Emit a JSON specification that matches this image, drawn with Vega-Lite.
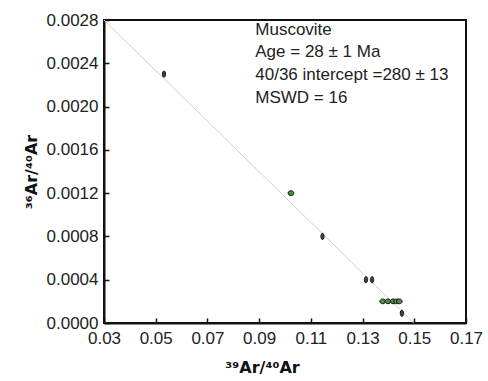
{
  "$schema": "https://vega.github.io/schema/vega-lite/v6.json",
  "width": 362,
  "height": 303,
  "autosize": "none",
  "padding": {"left": 104, "top": 20, "right": 22, "bottom": 58},
  "background": "white",
  "config": {
    "view": {"stroke": "#111", "strokeWidth": 2},
    "font": "Liberation Sans",
    "axis": {
      "grid": false,
      "domainColor": "#111",
      "domainWidth": 2,
      "tickColor": "#111",
      "tickWidth": 1.5,
      "tickSize": -5,
      "labelFlush": false,
      "labelOverlap": false,
      "labelFont": "Liberation Sans",
      "labelFontSize": 17,
      "labelColor": "#222",
      "titleFont": "DejaVu Sans",
      "titleFontSize": 16,
      "titleFontWeight": "bold",
      "titleColor": "#111"
    }
  },
  "layer": [
    {
      "data": {"values": [{"x": 0.03, "y": 0.0028}, {"x": 0.1498, "y": 0.0}]},
      "mark": {"type": "line", "color": "#cdd0d3", "strokeWidth": 1},
      "encoding": {
        "x": {
          "field": "x", "type": "quantitative",
          "scale": {"domain": [0.03, 0.17], "nice": false, "zero": false},
          "axis": {
            "values": [0.03, 0.04, 0.05, 0.06, 0.07, 0.08, 0.09, 0.10, 0.11, 0.12, 0.13, 0.14, 0.15, 0.16, 0.17],
            "labelExpr": "round(datum.value*100) % 2 == 1 ? format(datum.value, '.2f') : ''",
            "labelPadding": 12,
            "title": "³⁹Ar/⁴⁰Ar",
            "titleX": 158,
            "titleY": 49,
            "titleAlign": "center",
            "titleBaseline": "alphabetic"
          }
        },
        "y": {
          "field": "y", "type": "quantitative",
          "scale": {"domain": [0, 0.0028], "nice": false},
          "axis": {
            "values": [0, 0.0002, 0.0004, 0.0006, 0.0008, 0.001, 0.0012, 0.0014, 0.0016, 0.0018, 0.002, 0.0022, 0.0024, 0.0026, 0.0028],
            "labelExpr": "round(datum.value*10000) % 4 == 0 ? format(datum.value, '.4f') : ''",
            "labelPadding": 11,
            "title": "³⁶Ar/⁴⁰Ar",
            "titlePadding": 7
          }
        }
      }
    },
    {
      "data": {"values": [
        {"x": 0.0532, "y": 0.0023, "type": "black"},
        {"x": 0.1023, "y": 0.0012, "type": "green"},
        {"x": 0.1145, "y": 0.0008, "type": "black"},
        {"x": 0.1313, "y": 0.0004, "type": "black"},
        {"x": 0.1337, "y": 0.0004, "type": "black"},
        {"x": 0.1378, "y": 0.0002, "type": "green"},
        {"x": 0.1398, "y": 0.0002, "type": "green"},
        {"x": 0.1418, "y": 0.0002, "type": "green"},
        {"x": 0.1432, "y": 0.0002, "type": "green"},
        {"x": 0.1442, "y": 0.0002, "type": "green"},
        {"x": 0.1452, "y": 0.00009, "type": "black"}
      ]},
      "mark": {"type": "point", "filled": true, "size": 40, "stroke": "#111", "strokeWidth": 1, "opacity": 1},
      "encoding": {
        "x": {"field": "x", "type": "quantitative"},
        "y": {"field": "y", "type": "quantitative"},
        "shape": {"field": "type", "type": "nominal", "scale": {"domain": ["black", "green"], "range": ["M0,-1A0.5,1 0 1,1 0,1A0.5,1 0 1,1 0,-1Z", "M-0.9,0A0.9,0.75 0 1,1 0.9,0A0.9,0.75 0 1,1 -0.9,0Z"]}, "legend": null},
        "fill": {"field": "type", "type": "nominal", "scale": {"domain": ["black", "green"], "range": ["#444444", "#4f8f45"]}, "legend": null}
      }
    },
    {
      "data": {"values": [
        {"x": 0.0885, "y": 0.00271, "t": "Muscovite"},
        {"x": 0.0885, "y": 0.0025, "t": "Age = 28 ± 1 Ma"},
        {"x": 0.0885, "y": 0.00229, "t": "40/36 intercept =280 ± 13"},
        {"x": 0.0885, "y": 0.00208, "t": "MSWD = 16"}
      ]},
      "mark": {"type": "text", "align": "left", "baseline": "middle", "fontSize": 17, "color": "#222", "font": "Liberation Sans"},
      "encoding": {
        "x": {"field": "x", "type": "quantitative"},
        "y": {"field": "y", "type": "quantitative"},
        "text": {"field": "t"}
      }
    }
  ]
}
